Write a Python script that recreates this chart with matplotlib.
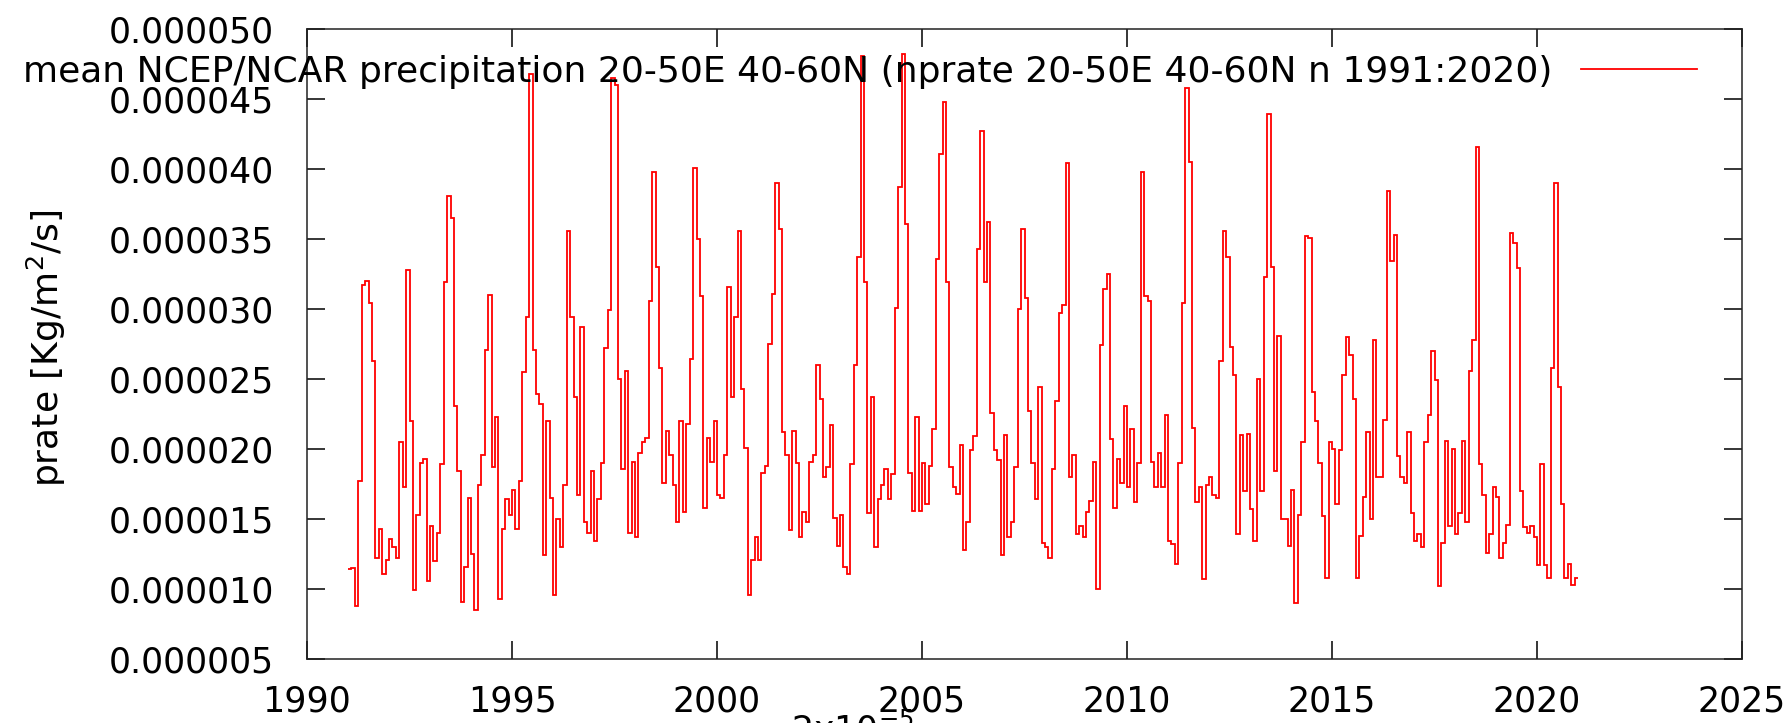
import numpy as np
import matplotlib
matplotlib.use('Agg')
import matplotlib.pyplot as plt
from matplotlib.ticker import MultipleLocator, FormatStrFormatter

# monthly mean precipitation rate, units of 1e-6 kg/m2/s
p1991_1995 = [11.4, 11.5, 8.8, 17.7, 31.7, 32.0, 30.4, 26.3, 12.2, 14.3, 11.1, 12.1,
              13.6, 13.0, 12.2, 20.5, 17.3, 32.8, 22.0, 9.9, 15.3, 19.0, 19.3, 10.6,
              14.5, 12.0, 14.0, 18.9, 31.9, 38.1, 36.5, 23.1, 18.4, 9.1, 11.6, 16.5,
              12.5, 8.5, 17.4, 19.6, 27.1, 31.0, 18.7, 22.3, 9.3, 14.3, 16.4, 15.3,
              17.1, 14.3, 17.7, 25.5, 29.4, 46.8, 27.1, 23.9, 23.2, 12.4, 22.0, 16.5]
p1996_2000 = [9.6, 15.0, 13.0, 17.4, 35.6, 29.4, 23.7, 16.7, 28.7, 14.8, 14.0, 18.4,
              13.4, 16.4, 19.0, 27.2, 29.9, 46.5, 46.0, 25.0, 18.6, 25.6, 14.0, 19.1,
              13.7, 19.7, 20.5, 20.8, 30.6, 39.8, 33.0, 25.8, 17.6, 21.3, 19.6, 17.4,
              14.8, 22.0, 15.5, 21.8, 26.4, 40.1, 35.0, 30.9, 15.8, 20.8, 19.1, 22.0,
              16.7, 16.5, 19.6, 31.6, 23.7, 29.4, 35.6, 24.3, 20.1, 9.6, 12.1, 13.7]
p2001_2005 = [12.1, 18.3, 18.8, 27.5, 31.1, 39.0, 35.7, 21.2, 19.6, 14.2, 21.3, 19.0,
              13.7, 15.5, 14.8, 19.1, 19.6, 26.0, 23.6, 18.0, 18.7, 21.7, 15.1, 13.1,
              15.3, 11.6, 11.1, 18.9, 26.0, 33.7, 48.1, 31.9, 15.4, 23.7, 13.0, 16.4,
              17.4, 18.6, 16.4, 18.2, 30.1, 38.7, 48.2, 36.1, 18.3, 15.6, 22.3, 15.6,
              19.0, 16.1, 18.8, 21.4, 33.6, 41.1, 44.8, 31.9, 18.7, 17.3, 16.8, 20.3]
p2006_2010 = [12.8, 14.8, 19.9, 20.9, 34.3, 42.7, 31.9, 36.2, 22.6, 19.9, 19.2, 12.4,
              21.0, 13.7, 14.8, 18.7, 30.0, 35.7, 30.8, 22.7, 19.0, 16.4, 24.4, 13.3,
              13.0, 12.2, 18.6, 23.4, 29.7, 30.3, 40.4, 18.0, 19.6, 13.9, 14.5, 13.7,
              15.5, 16.3, 19.1, 10.0, 27.4, 31.4, 32.5, 20.7, 15.8, 19.3, 17.6, 23.1,
              17.3, 21.4, 16.2, 19.0, 39.8, 30.9, 30.6, 19.1, 17.3, 19.7, 17.3, 22.4]
p2011_2015 = [13.4, 13.2, 11.8, 19.0, 30.4, 45.8, 40.5, 21.5, 16.2, 17.3, 10.7, 17.4,
              18.0, 16.7, 16.5, 26.3, 35.6, 33.7, 27.3, 25.3, 13.9, 21.0, 17.0, 21.1,
              15.7, 13.4, 25.0, 17.0, 32.3, 43.9, 33.0, 18.4, 28.1, 15.0, 15.0, 13.1,
              17.1, 9.0, 15.3, 20.5, 35.2, 35.1, 24.1, 22.0, 19.0, 15.2, 10.8, 20.5,
              20.0, 16.1, 19.9, 25.3, 28.0, 26.7, 23.6, 10.8, 13.8, 16.6, 21.2, 15.0]
p2016_2020 = [27.8, 18.0, 18.0, 22.1, 38.4, 33.4, 35.3, 19.5, 18.0, 17.6, 21.2, 15.4,
              13.4, 13.9, 13.0, 20.5, 22.4, 27.0, 24.9, 10.2, 13.3, 20.6, 14.5, 20.0,
              13.9, 15.4, 20.6, 14.8, 25.6, 27.8, 41.6, 18.9, 16.7, 12.6, 13.9, 17.3,
              16.6, 12.2, 13.3, 14.6, 35.4, 34.7, 32.9, 17.0, 14.4, 14.0, 14.5, 13.7,
              11.7, 18.9, 11.7, 10.8, 25.8, 39.0, 24.4, 16.1, 10.8, 11.8, 10.3, 10.8]

first_year = 1991
label = 'mean NCEP/NCAR precipitation 20-50E 40-60N (nprate 20-50E 40-60N n 1991:2020)'

prate = np.concatenate([p1991_1995, p1996_2000, p2001_2005,
                        p2006_2010, p2011_2015, p2016_2020]) * 1e-6
# month edges in decimal years
edges = first_year + np.arange(len(prate) + 1) / 12.0

fs = 25
fig = plt.figure(figsize=(17.88, 7.23), dpi=100)
ax = fig.add_axes([307 / 1788, 1 - 659 / 723, (1742 - 307) / 1788, (659 - 29) / 723])

ax.stairs(prate, edges, baseline=None, color='#ff0000', linewidth=1.3, label=label)

ax.set_xlim(1990, 2025)
ax.set_ylim(5e-6, 5e-5)
ax.xaxis.set_major_locator(MultipleLocator(5))
ax.yaxis.set_major_locator(MultipleLocator(5e-6))
ax.yaxis.set_major_formatter(FormatStrFormatter('%.6f'))
ax.tick_params(direction='in', length=13, width=1.1, top=True, right=True,
               labelsize=fs, colors='black')
ax.tick_params(axis='x', pad=18)
ax.tick_params(axis='y', pad=24)
for s in ax.spines.values():
    s.set_linewidth(1.1)
    s.set_color('#222222')

ax.set_ylabel('prate [Kg/m$^2$/s]', fontsize=26, va='center')
ax.yaxis.set_label_coords(46 / 1788, 1 - 348 / 723, transform=fig.transFigure)
fig.text(852 / 1788, 1 - 712 / 723, '2x10$^{-5}$', fontsize=fs, ha='center', va='top')

ax.legend(loc='center right', bbox_to_anchor=(1697 / 1788, 1 - 72 / 723),
          bbox_transform=fig.transFigure, frameon=False, markerfirst=False,
          fontsize=26, handlelength=3.2, handletextpad=0.8, borderpad=0,
          borderaxespad=0)

fig.savefig('out.png', dpi=100)
